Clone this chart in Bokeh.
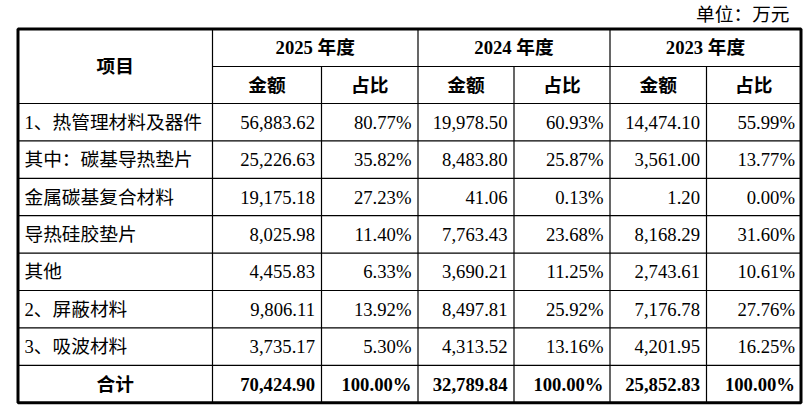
from bokeh.plotting import figure
from bokeh.models import ColumnDataSource, Range1d
from bokeh.core.properties import value
from bokeh.embed import file_html
from bokeh.resources import INLINE

# table data (万元)
items = ["1、热管理材料及器件", "其中：碳基导热垫片", "金属碳基复合材料",
         "导热硅胶垫片", "其他", "2、屏蔽材料", "3、吸波材料"]
years = ["2025 年度", "2024 年度", "2023 年度"]
sub_heads = ["金额", "占比"]
amount_2025 = [56883.62, 25226.63, 19175.18, 8025.98, 4455.83, 9806.11, 3735.17]
share_2025 = [80.77, 35.82, 27.23, 11.40, 6.33, 13.92, 5.30]
amount_2024 = [19978.50, 8483.80, 41.06, 7763.43, 3690.21, 8497.81, 4313.52]
share_2024 = [60.93, 25.87, 0.13, 23.68, 11.25, 25.92, 13.16]
amount_2023 = [14474.10, 3561.00, 1.20, 8168.29, 2743.61, 7176.78, 4201.95]
share_2023 = [55.99, 13.77, 0.00, 31.60, 10.61, 27.76, 16.25]
total_amounts = [70424.90, 32789.84, 25852.83]
total_shares = [100.00, 100.00, 100.00]
total_label = "合计"
head_label = "项目"
unit_label = "单位：万元"

# layout (pixels in the picture)
W, H = 805, 414
col_edges = [17.5, 212, 321, 417.5, 513.5, 609.5, 706, 800.5]
top, head_mid, head_bottom = 28.5, 66, 103
row_h = 37.4
font = value("Liberation Serif, Noto Sans CJK SC")
fsize = "18.7px"

p = figure(width=W, height=H, output_backend="svg", toolbar_location=None,
           x_range=Range1d(0, W), y_range=Range1d(H, 0),
           x_axis_location=None, y_axis_location=None, min_border=0)
p.grid.visible = False
p.outline_line_color = None
p.background_fill_color = "white"
p.border_fill_color = "white"

n_rows = len(items) + 1
row_lines = [head_bottom + i * row_h for i in range(n_rows + 1)]
bottom = row_lines[-1]

# grid lines
x0, y0, x1, y1 = [], [], [], []
for y in row_lines[:-1]:
    x0 += [col_edges[0]]; x1 += [col_edges[-1]]; y0 += [y]; y1 += [y]
x0 += [col_edges[1]]; x1 += [col_edges[-1]]; y0 += [head_mid]; y1 += [head_mid]
for i, x in enumerate(col_edges[1:-1], start=1):
    ys = top if i % 2 == 1 else head_mid
    x0 += [x]; x1 += [x]; y0 += [ys]; y1 += [bottom]
p.segment(x0=x0, y0=y0, x1=x1, y1=y1, line_color="black", line_width=1.2)
p.quad(left=[col_edges[0]], right=[col_edges[-1]], top=[top], bottom=[bottom],
       fill_alpha=0, line_color="black", line_width=3)

# unit label
p.text(x=[789], y=[14], text=[unit_label], text_font=font, text_font_size=fsize,
       text_align="right", text_baseline="middle", text_color="black")

# header texts
hx, hy, ht = [], [], []
hx.append((col_edges[0] + col_edges[1]) / 2); hy.append((top + head_bottom) / 2); ht.append(head_label)
for k, yr in enumerate(years):
    a, b, c = col_edges[1 + 2 * k], col_edges[2 + 2 * k], col_edges[3 + 2 * k]
    hx.append((a + c) / 2); hy.append((top + head_mid) / 2); ht.append(yr)
    hx.append((a + b) / 2); hy.append((head_mid + head_bottom) / 2); ht.append(sub_heads[0])
    hx.append((b + c) / 2); hy.append((head_mid + head_bottom) / 2); ht.append(sub_heads[1])
hx.append((col_edges[0] + col_edges[1]) / 2)
hy.append(row_lines[-2] + row_h / 2)
ht.append(total_label)
p.text(x=hx, y=hy, text=ht, text_font=font, text_font_size=fsize, text_font_style="bold",
       text_align="center", text_baseline="middle", text_color="black")

# item names
centers = [row_lines[i] + row_h / 2 for i in range(len(items))]
p.text(x=[24] * len(items), y=centers, text=items, text_font=font, text_font_size=fsize,
       text_align="left", text_baseline="middle", text_color="black")

# numbers
columns = [amount_2025, share_2025, amount_2024, share_2024, amount_2023, share_2023]
nx, ny, nt = [], [], []
for j, col in enumerate(columns):
    right = col_edges[j + 2] - (6.5 if j < 5 else 6)
    for i, v in enumerate(col):
        nx.append(right); ny.append(centers[i])
        nt.append(f"{v:,.2f}" if j % 2 == 0 else f"{v:.2f}%")
src = ColumnDataSource(data=dict(x=nx, y=ny, t=nt))
p.text(x="x", y="y", text="t", source=src, text_font=font, text_font_size=fsize,
       text_align="right", text_baseline="middle", text_color="black")

tx, ty, tt = [], [], []
ty_c = row_lines[-2] + row_h / 2
for k in range(3):
    tx.append(col_edges[2 + 2 * k] - 6.5); ty.append(ty_c); tt.append(f"{total_amounts[k]:,.2f}")
    tx.append(col_edges[3 + 2 * k] - (6.5 if k < 2 else 6)); ty.append(ty_c); tt.append(f"{total_shares[k]:.2f}%")
p.text(x=tx, y=ty, text=tt, text_font=font, text_font_size=fsize, text_font_style="bold",
       text_align="right", text_baseline="middle", text_color="black")

open("out.html", "w").write(file_html(p, INLINE))
